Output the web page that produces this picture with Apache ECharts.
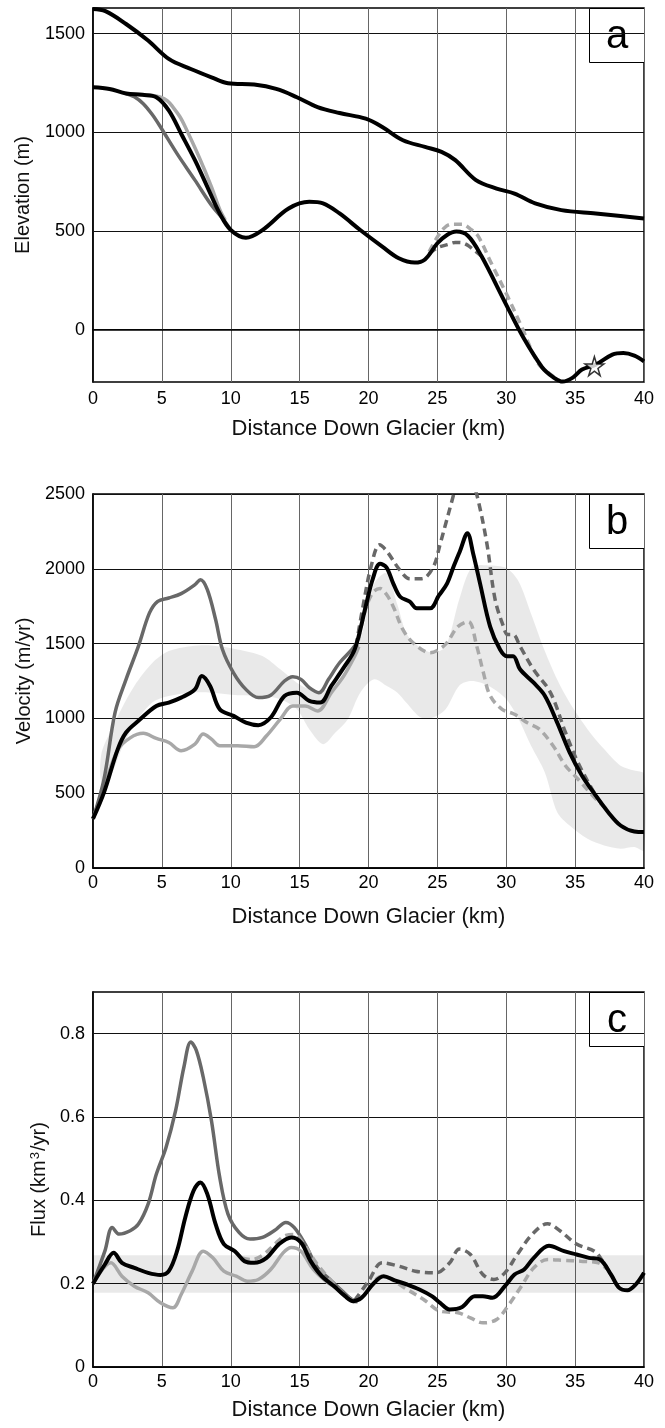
<!DOCTYPE html>
<html>
<head>
<meta charset="utf-8">
<script src="https://cdn.jsdelivr.net/npm/echarts@6/dist/echarts.min.js"></script>
<style>
  html, body { margin: 0; padding: 0; background: #fff; }
  #chart { width: 665px; height: 1428px; }
</style>
</head>
<body>
<div id="chart"></div>
<script>
// x ticks shared by all three panels (km)
const distTicks = [0, 5, 10, 15, 20, 25, 30, 35, 40];

// ---- panel a: elevation (m) ----
const elevTicks = [0, 500, 1000, 1500];
const surfaceA = [[0,1625],[0.9,1614],[2.4,1549],[4,1465],[5.5,1372],[7.1,1321],[8.6,1279],[9.8,1249],[11.7,1242],[13.3,1220],[14.8,1178],[16.3,1128],[17.9,1098],[19.8,1069],[21,1027],[22.5,960],[24.1,926],[25.3,901],[26.3,859],[27.8,758],[29.3,715],[30.6,690],[32.1,640],[34,606],[36.5,589],[38.3,576],[40,564]];
const bedA = [[0,1229],[1.2,1220],[2.4,1197],[3.6,1190],[4.6,1178],[5.5,1111],[6.4,993],[7.4,859],[8.3,724],[9.2,589],[10,505],[11.1,466],[12.3,505],[14.2,614],[15.7,648],[16.7,640],[17.9,589],[19.4,505],[21,421],[22.2,362],[23.35,340],[24.1,356],[25,438],[25.7,480],[26.38,497],[27.23,475],[28.2,373],[29.9,140],[31.2,-35],[32.6,-190],[33.4,-240],[34.1,-263],[34.8,-244],[35.5,-202],[36.5,-177],[37.7,-126],[38.5,-118],[39.3,-131],[40,-160]];
const bedDarkA = [[2.4,1197],[3,1180],[3.65,1145],[4.3,1090],[4.9,1027],[6.1,892],[7.4,758],[8.6,631],[9.5,556],[10,505]];
const bedLightA = [[3.3,1190],[4.2,1188],[4.9,1178],[5.4,1160],[5.8,1128],[6.3,1080],[6.7,1027],[7.7,875],[8.6,724],[9.2,610],[9.6,555]];
const bedDashLightA = [[24.4,395],[25,470],[25.5,515],[26,534],[26.8,534],[27.4,510],[27.95,475],[28.9,339],[30.1,169],[31.1,17],[32.3,-169],[33,-215],[33.9,-260]];
const bedDashDarkA = [[24.4,385],[25,415],[25.78,432],[26.3,442],[26.74,441],[27.2,428],[27.59,407],[28.2,373]];
const starA = [[36.4,-185]];

// ---- panel b: velocity (m/yr) ----
const velBlack = [[0,329],[0.8,506],[1.8,795],[2.4,906],[3.3,984],[4.6,1083],[5.5,1106],[6.4,1139],[7.4,1194],[7.9,1283],[8.5,1217],[9.2,1061],[10.2,1017],[11.1,972],[12,955],[12.9,1006],[13.9,1150],[14.8,1172],[15.7,1117],[16.5,1106],[17.3,1217],[18.2,1339],[19,1461],[19.8,1750],[20.3,1930],[20.84,2033],[21.3,2010],[21.8,1901],[22.3,1813],[23,1780],[23.5,1736],[24.47,1736],[25.1,1820],[25.7,1901],[26.2,2020],[26.65,2121],[27.18,2238],[27.6,2100],[28.1,1901],[28.83,1614],[29.55,1460],[30.04,1416],[30.5,1416],[31,1328],[31.97,1240],[32.8,1152],[33.7,972],[34.6,773],[35.5,617],[36.5,484],[37.4,373],[38.3,284],[39.3,244],[40,240]];
const velDark = [[0,329],[0.8,595],[1.6,1039],[2.4,1261],[3.3,1483],[4.1,1705],[4.7,1783],[5.5,1805],[6.4,1834],[7.4,1894],[7.8,1927],[8.3,1861],[8.9,1661],[9.4,1461],[10.2,1305],[11.1,1194],[12,1139],[12.9,1155],[13.9,1250],[14.5,1279],[15.1,1261],[15.7,1206],[16.4,1172],[17.1,1261],[17.9,1372],[18.8,1461],[19.2,1510]];
const velLight = [[0,329],[0.8,540],[1.8,790],[2.7,870],[3.65,900],[4.6,866],[5.5,839],[6.4,784],[7.4,828],[8,895],[8.6,861],[9.2,817],[10.5,817],[11.7,810],[12.6,884],[13.6,995],[14.5,1083],[15.4,1083],[16.3,1050],[17.3,1172],[18.2,1283],[19,1416],[19.3,1480]];
const velDashDark = [[19.1,1483],[19.6,1750],[20.2,2020],[20.8,2160],[21.3,2121],[22.3,1989],[23,1934],[23.87,1934],[24.7,2011],[25.2,2165],[25.6,2300],[26.05,2451],[26.5,2600],[27,2680],[27.5,2600],[27.98,2451],[28.6,2165],[29.2,1791],[29.8,1614],[30.1,1560],[30.5,1560],[31,1482],[31.97,1328],[33.2,1174],[34.3,906],[35.2,706],[36.5,484],[37,420]];
const velDashLight = [[19.1,1439],[19.7,1700],[20.3,1840],[20.84,1868],[21.3,1830],[21.8,1747],[22.5,1593],[23.26,1504],[24.47,1439],[25.1,1460],[25.68,1504],[26.5,1614],[27.25,1647],[27.86,1482],[28.34,1306],[28.83,1152],[29.7,1061],[30.6,1028],[31.5,972],[32.4,928],[33.4,817],[34.3,684],[35.2,595],[36.5,462],[37.4,384]];
const bandBX    = [0.6, 1.2, 2.1, 3, 4.3, 5.5, 7.1, 8.6, 10.5, 12.3, 13.6, 14.8, 15.7, 16.7, 17.6, 18.5, 19.4, 20.4, 21.3, 22.1, 22.8, 23.8, 24.7, 25.6, 26.6, 27.5, 28.7, 30, 30.9, 31.8, 32.8, 33.7, 34.6, 35.9, 37.1, 38.3, 39.3, 40];
const bandBHigh = [760, 900, 1070, 1217, 1370, 1450, 1483, 1488, 1461, 1417, 1328, 1239, 1195, 1185, 1225, 1350, 1520, 1900, 1970, 1760, 1560, 1470, 1440, 1480, 1800, 2011, 2022, 2005, 1915, 1700, 1450, 1260, 1106, 928, 795, 684, 651, 628];
const bandBLow  = [580, 600, 800, 960, 1106, 1150, 1172, 1172, 1155, 1150, 1128, 1061, 928, 828, 906, 995, 1172, 1261, 1218, 1172, 1100, 1006, 1006, 1061, 1220, 1250, 1218, 1128, 995, 817, 639, 373, 284, 195, 151, 129, 140, 118];

// ---- panel c: flux (km3/yr) ----
const fluxTicks = [0, 0.2, 0.4, 0.6, 0.8];
const fluxBand = [0.178, 0.268];
const fluxBlack = [[0,0.2],[0.86,0.246],[1.5,0.274],[2.1,0.250],[3,0.238],[4,0.226],[4.9,0.221],[5.5,0.230],[6.1,0.278],[6.7,0.359],[7.3,0.423],[7.8,0.443],[8.3,0.415],[8.9,0.343],[9.5,0.295],[10.3,0.278],[11,0.254],[11.7,0.250],[12.6,0.262],[13.5,0.295],[14.4,0.311],[15.1,0.299],[15.8,0.254],[16.6,0.218],[17.5,0.194],[18.3,0.170],[18.9,0.158],[19.5,0.166],[20.3,0.198],[21.1,0.218],[21.9,0.208],[22.8,0.198],[23.7,0.186],[24.6,0.170],[25.2,0.154],[25.9,0.138],[26.8,0.144],[27.7,0.170],[28.3,0.170],[29,0.166],[29.9,0.194],[30.6,0.222],[31.3,0.234],[32,0.262],[33.1,0.291],[34.2,0.278],[35.1,0.270],[36,0.262],[36.8,0.258],[37.6,0.222],[38.2,0.190],[38.8,0.184],[39.4,0.198],[40,0.226]];
const fluxDark = [[0,0.2],[0.86,0.278],[1.4,0.335],[1.9,0.319],[2.7,0.327],[3.3,0.343],[4,0.391],[4.6,0.463],[5.3,0.527],[6,0.616],[6.6,0.720],[7.1,0.780],[7.5,0.760],[8,0.696],[8.6,0.591],[9.2,0.455],[9.8,0.367],[10.6,0.323],[11.4,0.307],[12.3,0.311],[13.2,0.328],[14,0.347],[14.6,0.335],[15.4,0.295],[16.3,0.238],[17.2,0.210],[18.1,0.182],[18.8,0.162],[19.2,0.158]];
const fluxLight = [[0,0.2],[1.3,0.250],[2.1,0.218],[3,0.194],[4,0.178],[4.9,0.154],[5.8,0.142],[6.4,0.174],[7.2,0.230],[8,0.278],[8.7,0.262],[9.5,0.230],[10.4,0.218],[11.2,0.206],[12,0.210],[12.9,0.234],[13.8,0.274],[14.4,0.287],[15.1,0.278],[16,0.234],[16.9,0.206],[17.8,0.186],[18.8,0.158],[19.2,0.156]];
const fluxDashLight = [[10.8,0.262],[11.5,0.258],[12.3,0.268],[13.2,0.295],[14,0.316],[14.6,0.318],[15.3,0.295],[16.2,0.250],[17.2,0.210],[18.2,0.175],[19,0.160],[19.6,0.170],[21,0.218],[22.8,0.186],[24,0.162],[25.2,0.134],[26.5,0.130],[27.4,0.118],[28.3,0.106],[29.3,0.114],[30.2,0.150],[31.1,0.194],[32,0.238],[33,0.258],[34.2,0.256],[35.4,0.254],[36.7,0.250],[37.3,0.235]];
const fluxDashDark = [[19,0.160],[20,0.206],[21,0.250],[22.2,0.242],[23.4,0.230],[24.9,0.226],[25.9,0.250],[26.6,0.283],[27.4,0.270],[28.3,0.222],[29.1,0.210],[29.9,0.226],[30.8,0.270],[31.9,0.319],[33,0.344],[33.9,0.327],[35.1,0.295],[36.4,0.278],[37,0.254],[37.6,0.222]];

const FONT = '"Liberation Sans", Arial, Helvetica, sans-serif';
const BLACK = '#000';
const DARK = '#686868';
const LIGHT = '#a8a8a8';
const DASH = [8, 5];

const plain = v => String(v);

const grids = [
  { left: 93, top: 8, width: 551, height: 374 },
  { left: 93, top: 494, width: 551, height: 374 },
  { left: 93, top: 992, width: 551, height: 375 }
].map(g => Object.assign({ show: true, borderColor: '#000', borderWidth: 1.5, backgroundColor: 'transparent' }, g));

function xAxisFor(i, nameGap, labelMargin) {
  return {
    type: 'value', gridIndex: i, min: 0, max: 40, interval: 5,
    name: 'Distance Down Glacier (km)', nameLocation: 'middle', nameGap: nameGap,
    nameTextStyle: { fontFamily: FONT, fontSize: 22, color: '#111' },
    axisLine: { show: true, lineStyle: { color: '#000', width: 1.5 } },
    axisTick: { show: false },
    axisLabel: { fontFamily: FONT, fontSize: 18, color: '#000', margin: labelMargin, formatter: plain },
    splitLine: { show: true, lineStyle: { color: '#666', width: 1 } }
  };
}

function yAxisFor(i, opts) {
  return Object.assign({
    type: 'value', gridIndex: i,
    nameLocation: 'middle',
    nameTextStyle: { fontFamily: FONT, fontSize: 20, color: '#111' },
    axisLine: { show: true, lineStyle: { color: '#000', width: 1.5 } },
    splitLine: { show: true, lineStyle: { color: '#111', width: 1 } }
  }, opts);
}

function line(i, data, color, width, dashed, z) {
  return {
    type: 'line', xAxisIndex: i, yAxisIndex: i, data: data,
    showSymbol: false, smooth: 0.35, z: z || 3, silent: true,
    lineStyle: { color: color, width: width, type: dashed ? DASH : 'solid', cap: 'butt', join: 'round' }
  };
}

const starPath = 'path://M50,2 L61,37 L98,37 L68,59 L79,94 L50,72 L21,94 L32,59 L2,37 L39,37 Z';

const option = {
  animation: false,
  backgroundColor: '#fff',
  grid: grids,
  xAxis: [xAxisFor(0, 36, 8), xAxisFor(1, 38, 6), xAxisFor(2, 32, 6)],
  yAxis: [
    yAxisFor(0, {
      min: -265, max: 1630, name: 'Elevation (m)', nameGap: 60,
      axisTick: { show: false, customValues: elevTicks },
      axisLabel: { customValues: elevTicks, fontFamily: FONT, fontSize: 18, color: '#000', margin: 8, formatter: plain }
    }),
    yAxisFor(1, {
      min: 0, max: 2500, interval: 500, name: 'Velocity (m/yr)', nameGap: 58,
      axisTick: { show: false },
      axisLabel: { fontFamily: FONT, fontSize: 18, color: '#000', margin: 8, formatter: plain }
    }),
    yAxisFor(2, {
      min: 0, max: 0.9, name: '{t|Flux (km}{s|3}{t|/yr)}', nameGap: 40,
      nameTextStyle: {
        rich: {
          t: { fontFamily: FONT, fontSize: 20, color: '#111' },
          s: { fontFamily: FONT, fontSize: 13, color: '#111', verticalAlign: 'top', padding: [0, 1, 8, 1] }
        }
      },
      axisTick: { show: false, customValues: fluxTicks },
      axisLabel: { customValues: fluxTicks, fontFamily: FONT, fontSize: 18, color: '#000', margin: 8, formatter: plain }
    })
  ],
  series: [
    // panel a
    line(0, bedDashDarkA, DARK, 3.5, true, 3),
    line(0, bedDashLightA, LIGHT, 3.5, true, 3),
    line(0, bedLightA, LIGHT, 3.5, false, 3),
    line(0, bedDarkA, DARK, 3.5, false, 3),
    line(0, surfaceA, BLACK, 4, false, 4),
    line(0, bedA, BLACK, 4, false, 4),
    {
      type: 'scatter', xAxisIndex: 0, yAxisIndex: 0, data: starA, z: 6, silent: true,
      symbol: starPath, symbolSize: 19,
      itemStyle: { color: '#fff', borderColor: '#000', borderWidth: 1.5 }
    },
    // panel b
    {
      type: 'custom', xAxisIndex: 1, yAxisIndex: 1, data: [[20, 1000]], z: 1, silent: true,
      renderItem: function (params, api) {
        const pts = [];
        for (let k = 0; k < bandBX.length; k++) pts.push(api.coord([bandBX[k], bandBHigh[k]]));
        for (let k = bandBX.length - 1; k >= 0; k--) pts.push(api.coord([bandBX[k], bandBLow[k]]));
        return { type: 'polygon', shape: { points: pts, smooth: 0.3 }, style: { fill: 'rgba(0,0,0,0.085)' } };
      }
    },
    line(1, velLight, LIGHT, 3.5, false, 3),
    line(1, velDark, DARK, 3.5, false, 3),
    line(1, velDashLight, LIGHT, 3.5, true, 3),
    line(1, velDashDark, DARK, 3.5, true, 3),
    line(1, velBlack, BLACK, 4, false, 4),
    // panel c
    Object.assign(line(2, fluxLight, LIGHT, 3.5, false, 3), {
      markArea: {
        silent: true,
        itemStyle: { color: 'rgba(0,0,0,0.085)' },
        data: [[{ yAxis: fluxBand[0] }, { yAxis: fluxBand[1] }]]
      }
    }),
    line(2, fluxDark, DARK, 3.5, false, 3),
    line(2, fluxDashLight, LIGHT, 3.5, true, 3),
    line(2, fluxDashDark, DARK, 3.5, true, 3),
    line(2, fluxBlack, BLACK, 4, false, 4)
  ],
  graphic: ['a', 'b', 'c'].map(function (letter, i) {
    const top = [8, 494, 992][i];
    return {
      type: 'group', left: 589, top: top, z: 100,
      children: [
        { type: 'rect', shape: { x: 0, y: 0, width: 55, height: 54 },
          style: { fill: '#fff', stroke: '#000', lineWidth: 1 } },
        { type: 'text', x: 27.5, y: 28,
          style: { text: letter, font: '40px ' + FONT, fill: '#000', align: 'center', verticalAlign: 'middle' } }
      ]
    };
  })
};

const chart = echarts.init(document.getElementById('chart'), null, { renderer: 'canvas', width: 665, height: 1428 });
chart.setOption(option);
</script>
</body>
</html>
